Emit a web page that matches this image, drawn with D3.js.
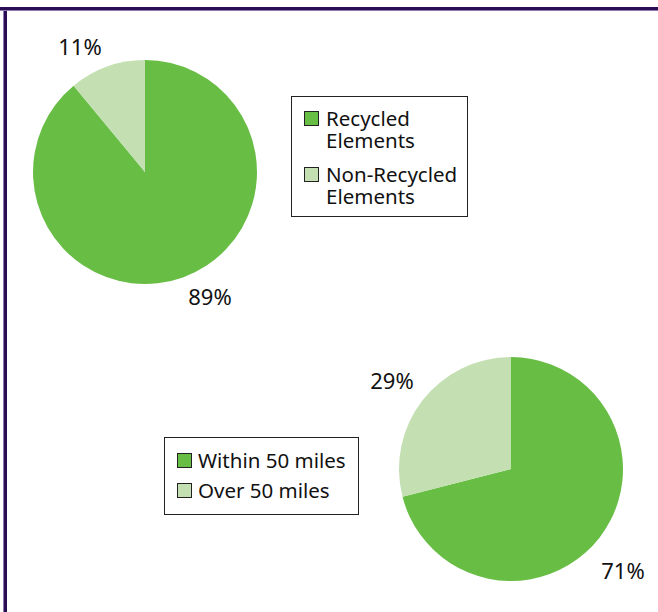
<!DOCTYPE html>
<html>
<head>
<meta charset="utf-8">
<script src="https://cdn.jsdelivr.net/npm/d3@7"></script>
<style>
  body { margin: 0; background: #fff; }
  svg { display: block; font-family: "Noto Sans", sans-serif; }
</style>
</head>
<body>
<svg id="drawing_region"></svg>
<script>
// chart data
const recycleLabels = ['Recycled Elements', 'Non-Recycled Elements'];
const recycleValues = [89, 11];
const distanceLabels = ['Within 50 miles', 'Over 50 miles'];
const distanceValues = [71, 29];
const sliceColors = ['#68bd45', '#c4e0b2'];

const width = 658, height = 612;

const svg = d3.select('#drawing_region')
    .attr('width', width)
    .attr('height', height);

// purple frame (top + left)
svg.append('rect').attr('x', 0).attr('y', 7).attr('width', width).attr('height', 3).attr('fill', '#2b0d55');
svg.append('rect').attr('x', 4).attr('y', 7).attr('width', 3).attr('height', height).attr('fill', '#2b0d55');
svg.append('rect').attr('x', 0).attr('y', 10).attr('width', width).attr('height', 1).attr('fill', '#8e7aae');
svg.append('rect').attr('x', 3).attr('y', 10).attr('width', 1).attr('height', height).attr('fill', '#8e7aae');

const pie = d3.pie().sort(null).value(d => d);
const arc = d3.arc().innerRadius(0).outerRadius(112);

function drawPie(cfg, values) {
    const g = svg.append('g')
        .attr('transform', `translate(${cfg.cx}, ${cfg.cy})`);

    const arcs = pie(values);
    g.selectAll('path')
        .data(arcs)
        .join('path')
        .attr('d', arc)
        .attr('fill', (d, i) => sliceColors[i]);

    g.selectAll('text')
        .data(arcs)
        .join('text')
        .attr('x', (d, i) => cfg.labelPos[i][0])
        .attr('y', (d, i) => cfg.labelPos[i][1])
        .attr('text-anchor', 'middle')
        .attr('font-size', 22)
        .attr('fill', '#111')
        .text(d => d.value + '%');
}

function drawLegend(cfg, labels) {
    const g = svg.append('g')
        .attr('transform', `translate(${cfg.x}, ${cfg.y})`);

    g.append('rect')
        .attr('x', 0.5).attr('y', 0.5)
        .attr('width', cfg.w).attr('height', cfg.h)
        .attr('fill', '#fff')
        .attr('stroke', '#222')
        .attr('stroke-width', 1);

    labels.forEach((label, i) => {
        const row = g.append('g')
            .attr('transform', `translate(13, ${cfg.rowY[i]})`);
        row.append('rect')
            .attr('x', 0.5).attr('y', 0.5)
            .attr('width', 14).attr('height', 14)
            .attr('fill', sliceColors[i])
            .attr('stroke', '#222');
        const lines = cfg.wrap ? label.split(' ') : [label];
        row.selectAll('text')
            .data(lines)
            .join('text')
            .attr('font-size', 20.5)
            .attr('fill', '#111')
            .attr('x', cfg.textX)
            .attr('y', (d, j) => 15 + j * 22)
            .text(d => d);
    });
}

drawPie({ cx: 145, cy: 172, labelPos: [[65, 133], [-65, -117]] }, recycleValues);
drawPie({ cx: 511, cy: 469, labelPos: [[112, 110], [-119, -80]] }, distanceValues);

drawLegend({ x: 291, y: 96, w: 176, h: 120, rowY: [15, 71], textX: 22, wrap: true }, recycleLabels);
drawLegend({ x: 164, y: 437, w: 194, h: 77, rowY: [16, 46], textX: 21, wrap: false }, distanceLabels);
</script>
</body>
</html>
